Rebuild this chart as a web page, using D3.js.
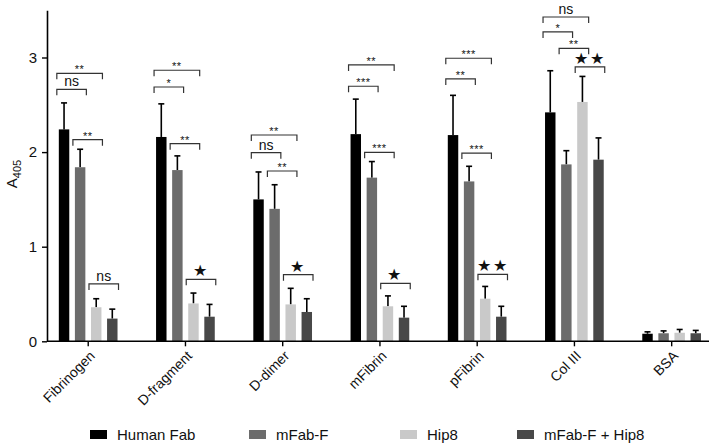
<!DOCTYPE html>
<html>
<head>
<meta charset="utf-8">
<script src="https://cdn.jsdelivr.net/npm/d3@7"></script>
<style>
  html, body { margin: 0; padding: 0; background: #fff; }
  svg { display: block; font-family: "Liberation Sans", Arial, Helvetica, sans-serif; }
</style>
</head>
<body>
<svg id="chart" width="709" height="444"></svg>
<script>
const categories = ["Fibrinogen", "D-fragment", "D-dimer", "mFibrin", "pFibrin", "Col III", "BSA"];
const seriesNames = ["Human Fab", "mFab-F", "Hip8", "mFab-F + Hip8"];
const seriesColors = ["#000000", "#6c6c6c", "#c9c9c9", "#484848"];

// means per series (one value per category)
const humanFab   = [2.24, 2.16, 1.50, 2.19, 2.18, 2.42, 0.08];
const mFabF      = [1.84, 1.81, 1.40, 1.73, 1.69, 1.87, 0.085];
const hip8       = [0.36, 0.40, 0.39, 0.37, 0.45, 2.53, 0.09];
const mFabFHip8  = [0.24, 0.26, 0.31, 0.25, 0.26, 1.92, 0.085];
// upper error bar ends
const humanFabErr  = [2.52, 2.51, 1.79, 2.56, 2.60, 2.86, 0.10];
const mFabFErr     = [2.03, 1.96, 1.655, 1.90, 1.85, 2.015, 0.11];
const hip8Err      = [0.45, 0.51, 0.56, 0.48, 0.58, 2.80, 0.125];
const mFabFHip8Err = [0.34, 0.39, 0.45, 0.37, 0.37, 2.15, 0.115];

const yTicks = [0, 1, 2, 3];

// significance brackets: [category, fromSeries, toSeries, label, level (A405 units)]
const brackets = [
  ["Fibrinogen", 0, 2, "**", 2.833], ["Fibrinogen", 0, 1, "ns", 2.664],
  ["Fibrinogen", 1, 2, "**", 2.131], ["Fibrinogen", 2, 3, "ns", 0.606],
  ["D-fragment", 0, 2, "**", 2.865], ["D-fragment", 0, 1, "*", 2.688],
  ["D-fragment", 1, 2, "**", 2.089], ["D-fragment", 2, 3, "★", 0.655],
  ["D-dimer", 0, 2, "**", 2.181], ["D-dimer", 0, 1, "ns", 1.994],
  ["D-dimer", 1, 2, "**", 1.80], ["D-dimer", 2, 3, "★", 0.704],
  ["mFibrin", 0, 2, "**", 2.921], ["mFibrin", 0, 1, "***", 2.696],
  ["mFibrin", 1, 2, "***", 1.998], ["mFibrin", 2, 3, "★", 0.613],
  ["pFibrin", 0, 2, "***", 2.992], ["pFibrin", 0, 1, "**", 2.773],
  ["pFibrin", 1, 2, "***", 1.99], ["pFibrin", 2, 3, "★★", 0.708],
  ["Col III", 0, 2, "ns", 3.428], ["Col III", 0, 1, "*", 3.27],
  ["Col III", 1, 2, "**", 3.097], ["Col III", 2, 3, "★★", 2.90]
];

const means = [humanFab, mFabF, hip8, mFabFHip8];
const errs = [humanFabErr, mFabFErr, hip8Err, mFabFHip8Err];

const svg = d3.select("#chart");
const axisX0 = 47, axisX1 = 709;

const y = d3.scaleLinear().domain([0, 3.5]).range([341.3, 10.2]);
const x = d3.scaleBand().domain(categories).range([39.6, 720.3]).padding(0);
const xs = d3.scaleBand().domain(d3.range(seriesNames.length)).range([-29.4, 29.3])
  .paddingInner(0.35).paddingOuter(0);

const data = [];
categories.forEach((c, ci) => {
  means.forEach((arr, si) => {
    data.push({ cat: c, s: si, v: arr[ci], e: errs[si][ci] });
  });
});
const cx = d => x(d.cat) + x.bandwidth() / 2;

// error bars
const eb = svg.append("g").attr("stroke", "#000").attr("stroke-width", 1.6);
data.forEach(d => {
  const mx = cx(d) + xs(d.s) + xs.bandwidth() / 2;
  eb.append("line").attr("x1", mx).attr("x2", mx).attr("y1", y(d.v)).attr("y2", y(d.e));
  eb.append("line").attr("x1", mx - 3).attr("x2", mx + 3).attr("y1", y(d.e)).attr("y2", y(d.e));
});

// bars
svg.append("g").selectAll("rect").data(data).join("rect")
  .attr("x", d => cx(d) + xs(d.s))
  .attr("width", xs.bandwidth())
  .attr("y", d => y(d.v))
  .attr("height", d => y(0) - y(d.v))
  .attr("fill", d => seriesColors[d.s]);

// y axis
const yAxis = svg.append("g").attr("transform", `translate(${axisX0},0)`)
  .call(d3.axisLeft(y).tickValues(yTicks).tickFormat(d3.format("d")).tickSize(5).tickSizeOuter(0).tickPadding(5));
yAxis.select(".domain").attr("stroke-width", 1.6);
yAxis.selectAll(".tick line").attr("stroke-width", 1.4);
yAxis.selectAll(".tick text").attr("font-size", 15).attr("fill", "#111").attr("font-family", "Liberation Sans, Arial, sans-serif");

// x axis
const xAxis = svg.append("g").attr("transform", `translate(0,${y(0)})`)
  .call(d3.axisBottom(x).tickSize(5).tickSizeOuter(0).tickFormat(() => ""));
xAxis.select(".domain").remove();
xAxis.append("line").attr("x1", axisX0).attr("x2", axisX1).attr("y1", 0).attr("y2", 0)
  .attr("stroke", "#000").attr("stroke-width", 1.6);
xAxis.selectAll(".tick line").attr("stroke-width", 1.4);

// rotated category labels (CSS transform)
svg.append("g").selectAll("text").data(categories).join("text")
  .attr("x", 0).attr("y", 0)
  .attr("text-anchor", "end")
  .attr("dy", "0.35em")
  .attr("font-size", 14).attr("fill", "#111")
  .style("transform", d => `translate(${x(d) + x.bandwidth() / 2 + 4}px, ${y(0) + 12}px) rotate(-45deg)`)
  .text(d => d);

// y label (CSS transform)
svg.append("text")
  .attr("x", 0).attr("y", 0)
  .attr("text-anchor", "middle")
  .attr("font-size", 15).attr("fill", "#111")
  .style("transform", "translate(17px, 174px) rotate(-90deg)")
  .call(t => {
    t.append("tspan").text("A");
    t.append("tspan").attr("font-size", 11).attr("dy", 4).text("405");
  });

// brackets
const bg = svg.append("g");
brackets.forEach(([cat, a, b, lab, lvl]) => {
  const c = x(cat) + x.bandwidth() / 2;
  const x1 = c + xs(a) - 2;
  const x2 = c + xs(b) + xs.bandwidth() + 1;
  const yy = y(lvl);
  bg.append("path")
    .attr("d", `M${x1},${yy + 6}V${yy}H${x2}V${yy + 6}`)
    .attr("fill", "none").attr("stroke", "#333").attr("stroke-width", 1.2);
  const t = bg.append("text").attr("x", (x1 + x2) / 2).attr("text-anchor", "middle").attr("fill", "#111");
  if (lab === "ns") {
    t.attr("y", yy - 3).attr("font-size", 14).text(lab);
  } else if (lab.includes("★")) {
    t.attr("y", yy - 3).attr("font-size", 16).attr("letter-spacing", 2).text(lab);
  } else {
    t.attr("y", yy).attr("font-size", 11).attr("letter-spacing", 0.5).text(lab);
  }
});

// legend
const legendX = [90, 249, 400, 517];
const lg = svg.append("g");
seriesNames.forEach((n, i) => {
  lg.append("rect").attr("x", legendX[i]).attr("y", 430).attr("width", 17).attr("height", 9)
    .attr("fill", seriesColors[i]);
  lg.append("text").attr("x", legendX[i] + 27).attr("y", 440)
    .attr("font-size", 15).attr("fill", "#111").text(n);
});
</script>
</body>
</html>
